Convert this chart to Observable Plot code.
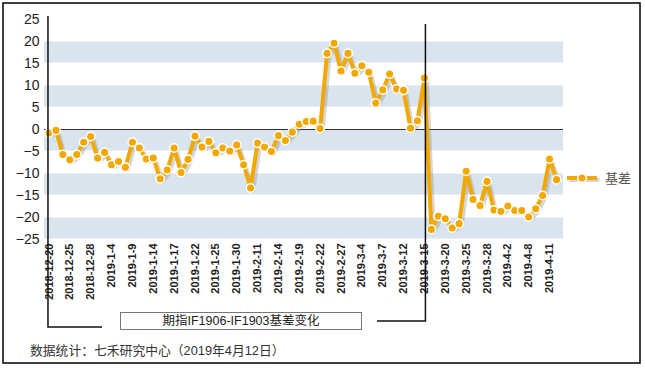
<!DOCTYPE html>
<html>
<head>
<meta charset="utf-8">
<script src="https://cdn.jsdelivr.net/npm/d3@7"></script>
<script src="https://cdn.jsdelivr.net/npm/@observablehq/plot@0.6"></script>
<style>
  html, body { margin: 0; padding: 0; background: #fff; }
  #chart svg { display: block; }
</style>
</head>
<body>
<div id="chart"></div>
<script>
const dates = ["2018-12-20","2018-12-21","2018-12-24","2018-12-25","2018-12-26","2018-12-27","2018-12-28",
  "2019-1-2","2019-1-3","2019-1-4","2019-1-7","2019-1-8","2019-1-9","2019-1-10","2019-1-11","2019-1-14","2019-1-15",
  "2019-1-16","2019-1-17","2019-1-18","2019-1-21","2019-1-22","2019-1-23","2019-1-24","2019-1-25","2019-1-28",
  "2019-1-29","2019-1-30","2019-1-31","2019-2-1","2019-2-11","2019-2-12","2019-2-13","2019-2-14","2019-2-15",
  "2019-2-18","2019-2-19","2019-2-20","2019-2-21","2019-2-22","2019-2-25","2019-2-26","2019-2-27","2019-2-28",
  "2019-3-1","2019-3-4","2019-3-5","2019-3-6","2019-3-7","2019-3-8","2019-3-11","2019-3-12","2019-3-13",
  "2019-3-14","2019-3-15","2019-3-18","2019-3-19","2019-3-20","2019-3-21","2019-3-22","2019-3-25","2019-3-26",
  "2019-3-27","2019-3-28","2019-3-29","2019-4-1","2019-4-2","2019-4-3","2019-4-4","2019-4-8","2019-4-9",
  "2019-4-10","2019-4-11","2019-4-12"];

const basis = [-0.8,-0.2,-5.7,-6.9,-5.7,-2.9,-1.6,-6.5,-5.2,-8.0,-7.3,-8.6,-2.9,-4.2,-6.7,-6.5,-11.2,-9.2,-4.2,-9.8,
  -6.8,-1.5,-4.0,-2.7,-5.3,-4.2,-4.9,-3.5,-8.0,-13.3,-3.1,-4.0,-5.0,-1.4,-2.5,-0.6,1.2,1.8,1.9,0.2,
  17.3,19.6,13.3,17.3,12.8,14.5,13.0,6.0,9.0,12.6,9.2,8.9,0.3,2.0,11.7,-22.7,-19.7,-20.3,-22.4,-21.4,
  -9.5,-15.9,-17.3,-11.8,-18.3,-18.6,-17.4,-18.4,-18.4,-19.9,-18.0,-15.0,-6.7,-11.4];

const tickLabels = ["2018-12-20","2018-12-25","2018-12-28","2019-1-4","2019-1-9","2019-1-14","2019-1-17","2019-1-22",
  "2019-1-25","2019-1-30","2019-2-11","2019-2-14","2019-2-19","2019-2-22","2019-2-27","2019-3-4","2019-3-7",
  "2019-3-12","2019-3-15","2019-3-20","2019-3-25","2019-3-28","2019-4-2","2019-4-8","2019-4-11"];

const yTicks = [25,20,15,10,5,0,-5,-10,-15,-20,-25];
const bandStarts = [15,5,-5,-15,-25];

const seriesName = "基差";
const title = "期指IF1906-IF1903基差变化";
const source = "数据统计：七禾研究中心（2019年4月12日）";

const data = dates.map((d, i) => ({date: d, value: basis[i]}));
const bands = bandStarts.map(b => ({y1: b, y2: b + 5}));

const orange = "#f3a800";
const font = "'Liberation Sans', Arial, 'Noto Sans CJK SC', sans-serif";

const chart = Plot.plot({
  width: 645,
  height: 368,
  marginLeft: 44,
  marginRight: 82,
  marginTop: 19,
  marginBottom: 129,
  style: {fontFamily: font, background: "#fff", color: "#222"},
  x: {type: "point", domain: dates, range: [45, 559.5]},
  y: {domain: [-25, 25], range: [239, 19]},
  marks: [
    Plot.rect(bands, {y1: "y1", y2: "y2", fill: "#dae4ef", inset: 0, insetTop: 0.5, insetBottom: 0.5}),
    Plot.ruleY([0], {stroke: "#333", strokeWidth: 1}),
    Plot.axisY({ticks: yTicks, tickSize: 0, tickPadding: 5, fontSize: 14, fill: "#222", label: null}),
    Plot.axisX({ticks: tickLabels, tickSize: 0, tickPadding: 4, tickRotate: -90, fontSize: 11, fontWeight: "bold", fill: "#222", label: null}),
    Plot.line(data, {x: "date", y: "value", stroke: "#8a8a8a", strokeOpacity: 0.35, strokeWidth: 4, dx: 2.5, dy: 2.5}),
    Plot.line(data, {x: "date", y: "value", stroke: orange, strokeWidth: 4}),
    Plot.dot(data, {x: "date", y: "value", r: 4.3, fill: orange, stroke: "#fff", strokeWidth: 1.5})
  ]
});

document.getElementById("chart").appendChild(chart);

const svg = d3.select(chart);
const xs = chart.scale("x");
const x0 = xs.apply(dates[0]) - 0.5;
const xSplit = xs.apply("2019-3-15") + 1.5;

const deco = svg.append("g").attr("text-anchor", "start");
// outer border
deco.append("rect").attr("x", 3).attr("y", 3).attr("width", 637).attr("height", 360)
  .attr("fill", "none").attr("stroke", "#000").attr("stroke-width", 1.5);
// left bracket
deco.append("path").attr("d", `M${x0},16V327H102`).attr("fill", "none").attr("stroke", "#111").attr("stroke-width", 1.5);
// right bracket
deco.append("path").attr("d", `M${xSplit},24V321H377`).attr("fill", "none").attr("stroke", "#111").attr("stroke-width", 1.5);
// title box
deco.append("rect").attr("x", 120.5).attr("y", 312.5).attr("width", 241).attr("height", 17)
  .attr("fill", "#fff").attr("stroke", "#777").attr("stroke-width", 1);
deco.append("text").attr("x", 241).attr("y", 321).attr("text-anchor", "middle").attr("dominant-baseline", "central")
  .attr("font-size", 12.5).attr("fill", "#222").text(title);
// source
deco.append("text").attr("x", 30).attr("y", 350).attr("text-anchor", "start").attr("dominant-baseline", "central")
  .attr("font-size", 12.8).attr("fill", "#333").text(source);
// legend
const ly = 178;
deco.append("line").attr("x1", 569.5).attr("x2", 599.5).attr("y1", ly + 2).attr("y2", ly + 2)
  .attr("stroke", "#8a8a8a").attr("stroke-opacity", 0.35).attr("stroke-width", 4);
deco.append("line").attr("x1", 567).attr("x2", 597).attr("y1", ly).attr("y2", ly)
  .attr("stroke", orange).attr("stroke-width", 4);
deco.append("circle").attr("cx", 582).attr("cy", ly).attr("r", 4.3)
  .attr("fill", orange).attr("stroke", "#fff").attr("stroke-width", 1.5);
deco.append("text").attr("x", 605).attr("y", ly).attr("text-anchor", "start").attr("dominant-baseline", "central")
  .attr("font-size", 13).attr("fill", "#555").text(seriesName);
</script>
</body>
</html>
